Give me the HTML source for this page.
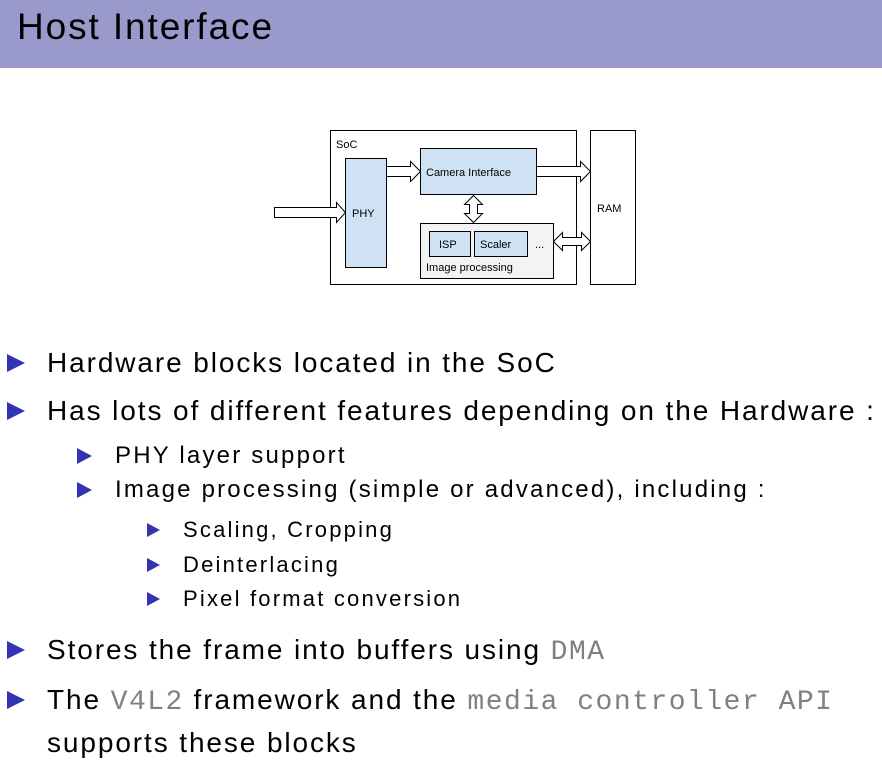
<!DOCTYPE html>
<html><head><style>
body{margin:0;width:882px;height:764px;background:#fff;position:relative;overflow:hidden;font-family:"Liberation Sans",sans-serif;}
.hdr{position:absolute;left:0;top:0;width:882px;height:68px;background:#9999cc;}
.hdr span{position:absolute;left:17px;top:2px;font-size:37px;line-height:50px;color:#000;letter-spacing:1.9px;}
.l{position:absolute;line-height:34px;height:34px;color:#000;white-space:nowrap;}
.l1{font-size:28px;left:47px;letter-spacing:1.9px;}
.l2{font-size:24px;left:115px;letter-spacing:2.2px;}
.l3{font-size:22px;left:183px;letter-spacing:2.2px;}
.tri{position:absolute;width:0;height:0;border-top:9px solid transparent;border-bottom:9px solid transparent;border-left:18px solid #3333b3;}
.t2{border-top-width:8px;border-bottom-width:8px;border-left-width:15px;}
.t3{border-top-width:7px;border-bottom-width:7px;border-left-width:13px;}
.m{font-family:"Liberation Mono",monospace;color:#808080;letter-spacing:1.5px;}
</style></head><body>
<div class="hdr"><span>Host Interface</span></div>
<svg style="position:absolute;left:0;top:0" width="882" height="300" font-family="Liberation Sans, sans-serif">
<rect x="330.5" y="130.5" width="246" height="154" fill="#fff" stroke="#000"/>
<text x="336" y="148" font-size="11">SoC</text>
<rect x="590.5" y="130.5" width="45" height="154" fill="#fff" stroke="#000"/>
<text x="597" y="212" font-size="11">RAM</text>
<rect x="345.5" y="158.5" width="41" height="109" fill="#cfe2f3" stroke="#000"/>
<text x="352" y="217" font-size="11">PHY</text>
<rect x="420.5" y="148.5" width="116" height="46" fill="#cfe2f3" stroke="#000"/>
<text x="426" y="176" font-size="11">Camera Interface</text>
<rect x="420.5" y="223.5" width="133" height="55" fill="#f3f3f3" stroke="#000"/>
<rect x="429.5" y="231.5" width="41" height="25" fill="#cfe2f3" stroke="#000"/>
<text x="439" y="248" font-size="11">ISP</text>
<rect x="474.5" y="231.5" width="53" height="25" fill="#cfe2f3" stroke="#000"/>
<text x="480" y="248" font-size="11">Scaler</text>
<text x="535" y="248" font-size="11">...</text>
<text x="426" y="271" font-size="11">Image processing</text>
<g fill="#fff" stroke="#000">
<polygon points="274.5,207.5 336.5,207.5 336.5,202.5 345.5,212.5 336.5,222.5 336.5,217.5 274.5,217.5"/>
<polygon points="386.5,166.5 410.5,166.5 410.5,161.5 420.5,171.5 410.5,181.5 410.5,176.5 386.5,176.5"/>
<polygon points="536.5,166.5 580.5,166.5 580.5,161.5 590.5,171.5 580.5,181.5 580.5,176.5 536.5,176.5"/>
<polygon points="553.5,241.5 562.5,232.5 562.5,237.5 581.5,237.5 581.5,232.5 590.5,241.5 581.5,250.5 581.5,245.5 562.5,245.5 562.5,250.5"/>
<polygon points="473.5,195.5 482.5,204.5 477.5,204.5 477.5,213.5 482.5,213.5 473.5,222.5 464.5,213.5 469.5,213.5 469.5,204.5 464.5,204.5"/>
</g>
</svg>
<div class="tri" style="left:7px;top:354px"></div><div class="l l1" style="top:346px">Hardware blocks located in the SoC</div>
<div class="tri" style="left:7px;top:402px"></div><div class="l l1" style="top:394px">Has lots of different features depending on the Hardware :</div>
<div class="tri t2" style="left:77px;top:448px"></div><div class="l l2" style="top:439px">PHY layer support</div>
<div class="tri t2" style="left:77px;top:482px"></div><div class="l l2" style="top:473px">Image processing (simple or advanced), including :</div>
<div class="tri t3" style="left:147px;top:523px"></div><div class="l l3" style="top:513px">Scaling, Cropping</div>
<div class="tri t3" style="left:147px;top:558px"></div><div class="l l3" style="top:548px">Deinterlacing</div>
<div class="tri t3" style="left:147px;top:592px"></div><div class="l l3" style="top:582px">Pixel format conversion</div>
<div class="tri" style="left:7px;top:641px"></div><div class="l l1" style="top:633px">Stores the frame into buffers using <span class="m">DMA</span></div>
<div class="tri" style="left:7px;top:691px"></div><div class="l l1" style="top:683px">The <span class="m">V4L2</span> framework and the <span class="m">media controller API</span></div>
<div class="l l1" style="top:726px">supports these blocks</div>
</body></html>
